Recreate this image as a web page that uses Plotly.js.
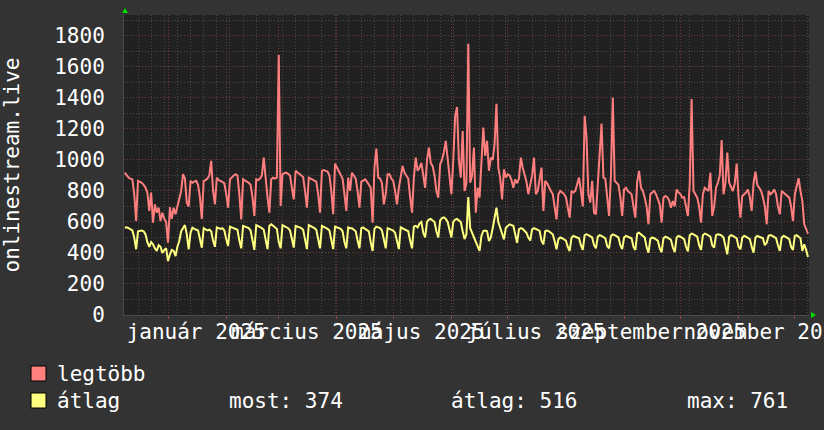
<!DOCTYPE html>
<html><head><meta charset="utf-8">
<script src="https://cdn.plot.ly/plotly-3.0.1.min.js"></script>
<style>html,body{margin:0;padding:0;background:#333333;}#chart{width:824px;height:430px;}</style>
</head><body><div id="chart"></div>
<script>
// ---- data: one value per day, starting Monday 2024-12-09 ----
const startDate = '2024-12-09';
const legtobb = [
918,900,886,880,875,780,606, 865,860,853,840,821,789,671, 789,595,714,660,692,606,660, 620,600,466,695,620,692,650,
700,760,800,908,880,725,700, 865,853,860,865,840,760,620, 865,870,880,900,994,800,714, 886,870,865,860,850,780,692,
875,890,900,908,900,780,617, 875,870,860,853,840,760,639, 875,870,880,900,1015,875,760, 660,875,886,880,886,1677,703,
908,915,918,910,900,820,746, 930,920,908,900,890,800,692, 886,880,875,870,860,780,660, 930,935,930,925,900,800,650,
976,951,930,908,880,780,671, 886,800,918,900,880,800,692, 860,870,875,860,840,821,595, 950,1073,886,880,850,714,780,
908,908,880,865,800,714,820, 886,961,918,900,880,760,660, 886,1015,930,950,981,900,820, 1000,1080,981,960,900,800,757,
972,1000,1050,1123,1015,900,779, 1000,1284,1342,1000,886,1187,800, 850,1750,853,900,1080,660,821, 757,1000,1209,1026,1123,930,1015,
1000,1100,1363,951,880,746,940, 886,908,900,870,821,875,850, 880,1015,950,900,860,779,850, 900,1015,779,800,880,951,671,
865,850,820,800,780,700,617, 779,800,790,780,760,700,628, 800,790,800,850,886,800,700, 1284,1144,779,725,865,660,650,
853,1000,1234,886,880,760,639, 900,1402,865,853,840,760,639, 810,821,800,790,779,700,628, 860,930,821,800,757,700,585,
779,790,800,780,750,714,595, 757,768,760,740,692,735,700, 810,790,780,757,760,700,639, 850,1393,800,779,757,700,595,
779,821,810,800,918,639,700, 821,853,900,1128,779,850,1047, 853,820,800,850,976,760,628, 768,779,790,810,760,671,850,
925,840,821,800,760,700,585, 800,779,790,810,780,700,650, 800,789,780,770,757,700,606, 779,830,882,800,735,585,550,
525];
const atlag = [
563,565,560,555,545,500,424, 540,545,545,540,520,470,440, 470,456,430,413,450,440,400, 420,430,348,390,420,413,380,
440,477,540,563,580,520,424, 530,563,555,550,545,490,434, 560,555,545,550,540,480,440, 565,560,555,560,545,490,445,
570,565,560,555,550,480,430, 575,570,565,560,545,470,420, 580,575,570,560,550,480,425, 575,585,575,565,555,470,430,
580,575,570,560,545,480,435, 575,570,570,560,550,475,425, 580,575,565,560,550,480,430, 575,570,565,555,545,470,425,
570,565,560,555,540,470,430, 565,560,560,550,540,480,430, 560,565,555,550,540,470,413, 555,570,565,560,545,480,430,
560,555,550,545,530,470,425, 565,560,555,550,540,480,430, 570,575,565,590,600,530,500, 600,615,620,610,600,540,500,
610,625,630,620,600,540,500, 600,615,620,610,600,540,490, 520,761,560,530,500,466,440, 413,510,542,545,540,477,500,
560,620,692,600,563,520,488, 563,575,585,580,575,520,466, 552,560,555,545,530,499,480, 552,560,555,550,542,480,456,
542,545,540,530,520,477,424, 488,500,495,490,480,440,413, 499,510,505,500,495,450,420, 515,520,515,510,500,450,430,
505,515,510,505,495,445,430, 510,520,515,510,500,450,425, 500,510,505,500,495,440,420, 525,531,520,510,500,440,402,
490,500,495,490,480,430,405, 495,505,500,495,485,435,405, 500,510,505,500,490,440,410, 515,525,520,515,505,450,420,
515,525,520,515,505,450,434, 515,520,518,512,500,440,391, 505,515,510,505,495,440,424, 500,510,505,500,490,440,402,
500,510,505,500,495,450,466, 510,515,510,505,495,450,413, 500,510,505,500,490,440,420, 510,515,505,495,413,456,420,
374];
const monthLabels = ['január 2025','március 2025','május 2025','július 2025','szeptember 2025','november 2025'];
const monthLabelPos = ['2025-01-16 00:00','2025-03-16 00:00','2025-05-16 00:00','2025-07-16 00:00','2025-09-15 12:00','2025-11-15 12:00'];
const seriesNames = ['legtöbb','átlag'];
const seriesColors = ['#ff7f7f','#ffff80'];
const statLabels = ['most:','átlag:','max:'];
const statValues = [374, 516, 761];
const yTitle = 'onlinestream.live';

// ---- build ----
const t0 = Date.UTC(2024, 11, 9);
const dates = legtobb.map((_, i) => new Date(t0 + i * 86400000).toISOString().slice(0, 10));
const xRange = ['2024-12-08 13:00', '2025-12-08 13:00'];

const FONT = {family: '"DejaVu Sans Mono", monospace', size: 21, color: '#ffffff'};
const L = 124, R = 809, T = 15, B = 315;
const px = v => (v - L) / (R - L);
const py = v => (B - v) / (B - T);

const traces = [
  {x: dates, y: legtobb, type: 'scatter', mode: 'lines', name: seriesNames[0], line: {color: seriesColors[0], width: 2}, hoverinfo: 'skip'},
  {x: dates, y: atlag, type: 'scatter', mode: 'lines', name: seriesNames[1], line: {color: seriesColors[1], width: 2}, hoverinfo: 'skip'},
  {x: [], y: [], type: 'scatter', mode: 'lines', xaxis: 'x2', yaxis: 'y', showlegend: false, hoverinfo: 'skip'}
];

const shapes = [
  {type: 'rect', xref: 'paper', yref: 'paper', x0: px(31), x1: px(46), y0: py(381), y1: py(366), fillcolor: seriesColors[0], line: {color: '#000', width: 1}},
  {type: 'rect', xref: 'paper', yref: 'paper', x0: px(31), x1: px(46), y0: py(408), y1: py(393), fillcolor: seriesColors[1], line: {color: '#000', width: 1}},
  {type: 'path', xref: 'paper', yref: 'paper', path: `M${px(122)},${py(13)} L${px(128)},${py(13)} L${px(125)},${py(8)} Z`, fillcolor: '#00e000', line: {width: 0}},
  {type: 'path', xref: 'paper', yref: 'paper', path: `M${px(811)},${py(312)} L${px(811)},${py(318)} L${px(816)},${py(315)} Z`, fillcolor: '#00e000', line: {width: 0}}
];

const ann = (x, y, text) => ({xref: 'paper', yref: 'paper', x: px(x), y: py(y), text, showarrow: false, xanchor: 'left', yanchor: 'middle', font: FONT});
const annotations = [
  ann(55, 374, seriesNames[0]),
  ann(55, 401, seriesNames[1]),
  ann(227, 401, statLabels[0] + ' ' + statValues[0]),
  ann(449, 401, statLabels[1] + ' ' + statValues[1]),
  ann(685, 401, statLabels[2] + ' ' + statValues[2])
];

const layout = {
  width: 824, height: 430,
  paper_bgcolor: '#333333', plot_bgcolor: '#212121',
  margin: {l: L, r: 824 - R, t: T, b: 430 - B, pad: 0},
  showlegend: false,
  font: FONT,
  xaxis: {
    type: 'date', range: xRange, tickmode: 'linear', tick0: '2025-01-01', dtick: 'M1',
    showticklabels: false, showgrid: true, gridcolor: '#6e3a3a', gridwidth: 1, griddash: '1px,2px',
    ticks: 'outside', ticklen: 3, tickcolor: '#9a4040',
    minor: {tick0: '2024-12-09', dtick: 7 * 86400000, showgrid: true, gridcolor: '#4a4a4a', griddash: '1px,2px', ticks: ''},
    showline: true, linecolor: '#4a4a4a', zeroline: false, fixedrange: true
  },
  xaxis2: {
    type: 'date', overlaying: 'x', side: 'bottom', range: xRange, tickmode: 'array',
    tickvals: monthLabelPos, ticktext: monthLabels, tickangle: 0, showgrid: false, ticks: '',
    tickfont: FONT, zeroline: false, showline: false, fixedrange: true, ticklabelstandoff: 2,
    ticklabeloverflow: 'allow'
  },
  yaxis: {
    range: [0, 1935], tickmode: 'linear', tick0: 0, dtick: 200,
    showgrid: true, gridcolor: '#6e3a3a', gridwidth: 1, griddash: '1px,2px',
    minor: {dtick: 100, showgrid: true, gridcolor: '#4a4a4a', griddash: '1px,2px', ticks: ''},
    tickfont: FONT, ticks: '', ticklabelstandoff: 14,
    title: {text: yTitle, font: FONT, standoff: 30},
    showline: true, linecolor: '#4a4a4a', zeroline: false, fixedrange: true
  },
  shapes, annotations
};

Plotly.newPlot('chart', traces, layout, {staticPlot: true, displayModeBar: false});
</script>
</body></html>
